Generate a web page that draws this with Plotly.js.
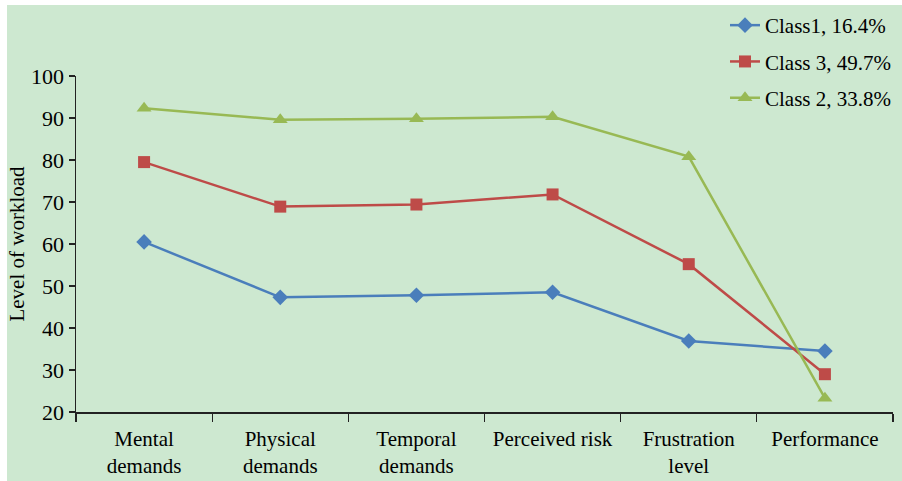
<!DOCTYPE html>
<html>
<head>
<meta charset="utf-8">
<script src="https://cdn.plot.ly/plotly-3.0.1.min.js"></script>
<style>html,body{margin:0;padding:0;background:#fff;}#chart{width:902px;height:481px;}</style>
</head>
<body>
<div id="chart"></div>
<script>
const categories = ["Mental<br>demands", "Physical<br>demands", "Temporal<br>demands", "Perceived risk", "Frustration<br>level", "Performance"];
const seriesNames = ["Class1, 16.4%", "Class 3, 49.7%", "Class 2, 33.8%"];
const class1 = [60.5, 47.3, 47.8, 48.5, 36.9, 34.5];
const class3 = [79.5, 68.9, 69.4, 71.8, 55.2, 29.0];
const class2 = [92.3, 89.6, 89.8, 90.3, 80.8, 23.3];

const W = 902, H = 481;
const M = {l: 76, r: 9, t: 76, b: 69, autoexpand: false};
const pw = W - M.l - M.r, ph = H - M.t - M.b;
const px2x = p => (p - M.l) / pw;
const px2y = p => (H - M.b - p) / ph;

const font = "Liberation Serif, Times New Roman, serif";

function trace(name, y, color, symbol, size) {
  return {
    type: "scatter", mode: "lines+markers", name: name, legendgroup: name,
    x: categories, y: y,
    line: {color: color, width: 2.5},
    marker: {color: color, symbol: symbol, size: size, line: {width: 0}}
  };
}

const data = [
  trace(seriesNames[0], class1, "#4a7ebb", "diamond", 12),
  trace(seriesNames[1], class3, "#be4b48", "square", 12),
  trace(seriesNames[2], class2, "#98b954", "triangle-up", 13)
];

const layout = {
  width: W, height: H,
  margin: M,
  paper_bgcolor: "#ffffff",
  plot_bgcolor: "#cde8d0",
  font: {family: font, size: 22, color: "#000"},
  showlegend: true,
  legend: {
    x: px2x(725), y: px2y(5), xanchor: "left", yanchor: "top",
    bgcolor: "rgba(0,0,0,0)", font: {family: font, size: 21, color: "#000"},
    traceorder: "grouped", tracegroupgap: 6
  },
  xaxis: {
    type: "category", automargin: false,
    tickson: "boundaries",
    ticks: "outside", ticklen: 8, tickwidth: 1.2, tickcolor: "#222",
    ticklabelstandoff: 7,
    showline: true, linecolor: "#222", linewidth: 1.5,
    showgrid: false, zeroline: false,
    range: [-0.5, 5.5],
    tickfont: {family: font, size: 21, color: "#000"}
  },
  yaxis: {
    range: [20, 100], automargin: false,
    tickvals: [20, 30, 40, 50, 60, 70, 80, 90, 100],
    ticks: "outside", ticklen: 6, tickwidth: 1.2, tickcolor: "#222",
    showline: true, linecolor: "#222", linewidth: 1.5,
    showgrid: false, zeroline: false,
    tickfont: {family: font, size: 22, color: "#000"},
    title: {text: "Level of workload", font: {family: font, size: 21, color: "#000"}, standoff: 0}
  },
  shapes: [{
    type: "rect", xref: "paper", yref: "paper", layer: "below",
    x0: px2x(7), x1: px2x(902), y0: px2y(481), y1: px2y(5),
    fillcolor: "#cde8d0", line: {width: 0}
  }]
};

Plotly.newPlot("chart", data, layout, {displayModeBar: false, staticPlot: true});
</script>
</body>
</html>
